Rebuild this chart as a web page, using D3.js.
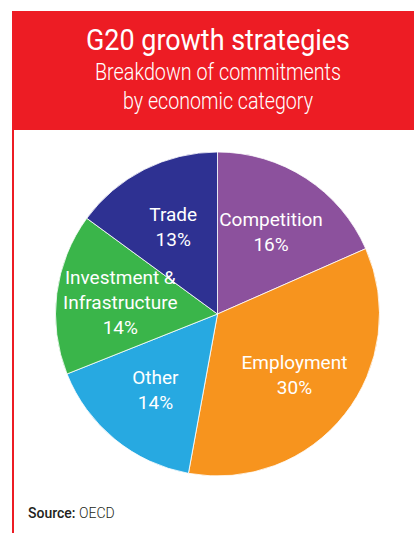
<!DOCTYPE html>
<html>
<head>
<meta charset="utf-8">
<script src="https://cdn.jsdelivr.net/npm/d3@7"></script>
<style>
  html, body { margin: 0; padding: 0; background: #fff; }
  svg { display: block; }
  text { font-family: Roboto, "Open Sans", sans-serif; }
</style>
</head>
<body>
<svg id="chart" width="414" height="533"></svg>
<script>
// Commitment shares by economic category (percent)
const categories = ["Competition", "Employment", "Other", "Investment & Infrastructure", "Trade"];
const shares = [16, 30, 14, 14, 13];
const sliceColors = ["#8C519D", "#F7941E", "#27A9E1", "#3AB54A", "#2E3192"];
// Label lines as printed inside each slice
const labelLines = [
  ["Competition"],
  ["Employment"],
  ["Other"],
  ["Investment &", "Infrastructure"],
  ["Trade"]
];

const svg = d3.select("#chart");
const W = 414, H = 533;

// Header band
svg.append("rect")
  .attr("x", 12).attr("y", 11)
  .attr("width", W - 12).attr("height", 119)
  .attr("fill", "#ED1C24");

// Left rule running down the page
svg.append("rect")
  .attr("x", 12).attr("y", 130)
  .attr("width", 2).attr("height", H - 130)
  .attr("fill", "#ED1C24");

svg.append("text")
  .attr("x", 218).attr("y", 50)
  .attr("text-anchor", "middle")
  .attr("fill", "#fff")
  .attr("font-size", 29)
  .attr("font-weight", 400)
  .attr("textLength", 264)
  .attr("lengthAdjust", "spacingAndGlyphs")
  .text("G20 growth strategies");

svg.append("text")
  .attr("x", 218).attr("y", 80)
  .attr("text-anchor", "middle")
  .attr("fill", "#fff")
  .attr("font-size", 23)
  .attr("font-weight", 300)
  .attr("textLength", 246)
  .attr("lengthAdjust", "spacingAndGlyphs")
  .text("Breakdown of commitments");

svg.append("text")
  .attr("x", 218).attr("y", 109)
  .attr("text-anchor", "middle")
  .attr("fill", "#fff")
  .attr("font-size", 23)
  .attr("font-weight", 300)
  .attr("textLength", 190)
  .attr("lengthAdjust", "spacingAndGlyphs")
  .text("by economic category");

// Pie
const cx = 217.5, cy = 314, R = 162;
const data = categories.map((c, i) => ({ category: c, value: shares[i], color: sliceColors[i], lines: labelLines[i] }));

const pie = d3.pie().value(d => d.value).sort(null).startAngle(0).endAngle(2 * Math.PI);
const arc = d3.arc().innerRadius(0).outerRadius(R);
const labelArc = d3.arc().innerRadius(98).outerRadius(98);

const g = svg.append("g").attr("transform", `translate(${cx},${cy})`);
const arcs = pie(data);

g.selectAll("path.slice")
  .data(arcs)
  .join("path")
  .attr("class", "slice")
  .attr("d", arc)
  .attr("fill", d => d.data.color)
  .attr("stroke", "#fff")
  .attr("stroke-width", 0.8);

const lineH = 25;
const labels = g.selectAll("text.label")
  .data(arcs)
  .join("text")
  .attr("class", "label")
  .attr("text-anchor", "middle")
  .attr("fill", "#fff")
  .attr("font-size", 19)
  .attr("transform", d => {
    const [x, y] = labelArc.centroid(d);
    return `translate(${x},${y})`;
  });

labels.each(function(d) {
  const lines = d.data.lines.concat([d.data.value + "%"]);
  const t = d3.select(this);
  const offset = -((lines.length - 1) * lineH) / 2 + 7;
  lines.forEach((ln, i) => {
    t.append("tspan")
      .attr("x", 0)
      .attr("y", offset + i * lineH)
      .text(ln);
  });
});

// Source line
const src = svg.append("text")
  .attr("x", 28).attr("y", 518)
  .attr("font-size", 14)
  .attr("fill", "#231F20");
src.append("tspan").attr("font-weight", 500).text("Source: ");
src.append("tspan").attr("font-weight", 300).text("OECD");
</script>
</body>
</html>
